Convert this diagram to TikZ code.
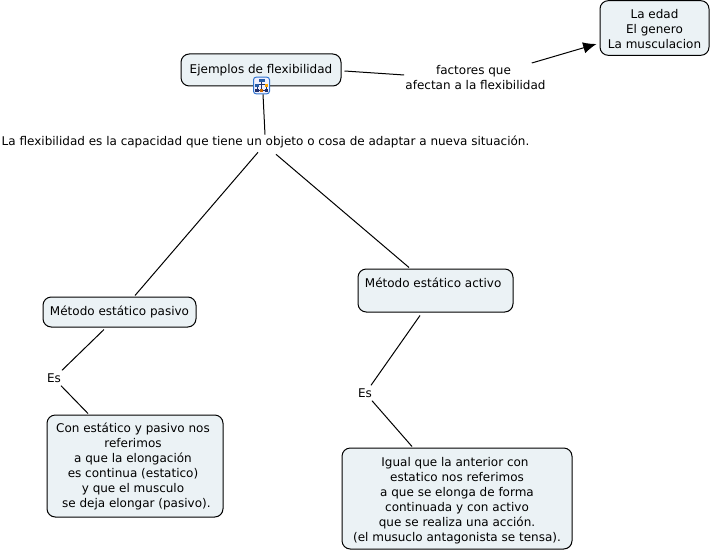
\documentclass[tikz,border=0pt]{standalone}
\usepackage{fontspec}
\setmainfont{DejaVu Sans}
\usetikzlibrary{arrows.meta}
\definecolor{boxfill}{HTML}{EBF2F5}
\definecolor{iconblue}{HTML}{2E73D0}
\definecolor{icondark}{HTML}{1F2F6B}
\newcommand{\trailgap}[1]{\rule{#1pt}{0pt}}
\newcommand{\topgap}[1]{\rule{0pt}{#1pt}}
\tikzset{
  cbox/.style={draw=black,fill=boxfill,rounded corners=6.2pt,line width=0.75pt,align=center,inner sep=0pt,font=\fontsize{9pt}{11.25pt}\selectfont},
  lbl/.style={align=center,inner sep=0pt,font=\fontsize{9pt}{11.25pt}\selectfont},
  conn/.style={draw=black,line width=0.75pt},
}
\begin{document}
\begin{tikzpicture}[x=0.75pt,y=-0.75pt]
\useasboundingbox (0,0) rectangle (712,552);
\fill[white] (0,0) rectangle (712,552);
\node[cbox,minimum width=120pt,minimum height=24pt] (ej) at (261,70) {Ejemplos de flexibilidad};
\node[cbox,minimum width=81.75pt,minimum height=41pt] (edad) at (654.5,28) {\topgap{8.6}La edad\\El genero\\La musculacion};
\node[cbox,minimum width=114.75pt,minimum height=22.5pt] (pas) at (119.5,312) {Método estático pasivo};
\node[cbox,minimum width=132pt,minimum height=76.5pt] (con) at (135,466) {\topgap{8.6}Con estático y pasivo nos\trailgap{3}\\referimos\trailgap{3}\\a que la elongación\trailgap{3}\\es continua (estatico)\trailgap{3}\\y que el musculo\trailgap{3}\\\rule{2pt}{0pt}se deja elongar (pasivo).};
\node[cbox,minimum width=116.25pt,minimum height=32.25pt] (act) at (435.5,290.5) {\topgap{10}Método estático activo\trailgap{3.5}\\\strut};
\node[cbox,minimum width=172.5pt,minimum height=75.75pt] (igu) at (457,498.5) {\topgap{10}Igual que la anterior con\trailgap{3}\\estatico nos referimos\\a que se elonga de forma\\continuada y con activo\\que se realiza una acción.\\(el musuclo antagonista se tensa).};
\node[lbl] (fac) at (475.5,78) {factores que\trailgap{3}\\afectan a la flexibilidad};
\node[lbl] (def) at (265.5,142) {La flexibilidad es la capacidad que tiene un objeto o cosa de adaptar a nueva situación.};
\node[lbl] (es1) at (54,378) {Es};
\node[lbl] (es2) at (365,393) {Es};
% icon
\node[draw=iconblue,fill=blue!6,rounded corners=2pt,line width=0.75pt,minimum width=12pt,minimum height=12.5pt,inner sep=0pt] (icon) at (261.5,85.5) {};
\begin{scope}[shift={(icon.center)},line width=0.5pt]
\draw[icondark] (0,-3) -- (0,5) (-4.5,-1) -- (4.5,-1) (-4.5,-1) -- (-4.5,5) (4.5,-1) -- (4.5,5) (-4.5,5) -- (4.5,5);
\fill[iconblue!80!black] (-3,-6) rectangle (3,-3);
\fill[iconblue!80!black] (-6.5,-1) rectangle (-3,2);
\fill[orange!70!yellow] (3,-1) rectangle (6.5,2);
\fill[icondark] (-6.5,4) rectangle (-3,6.5);
\fill[orange!80!black] (-1.5,4) rectangle (1.5,6.5);
\fill[icondark] (3,4) rectangle (6.5,6.5);
\end{scope}
% connectors
\draw[conn] ([shift={(3,1)}]ej.east) -- ([shift={(-1,-3)}]fac.west);
\draw[conn,-{Latex[length=10pt,width=8.5pt]}] ([shift={(-14,-15)}]fac.east) -- ([shift={(-3,16)}]edad.west);
\draw[conn] ([shift={(1.5,0)}]icon.south) -- ([shift={(-0.5,-1)}]def.north);
\draw[conn] ([shift={(-7.5,4)}]def.south) -- ([shift={(15.5,-1)}]pas.north);
\draw[conn] ([shift={(10.5,6)}]def.south) -- ([shift={(-26.5,-1)}]act.north);
\draw[conn] ([shift={(-15.5,2)}]pas.south) -- ([shift={(8,-3)}]es1.north);
\draw[conn] ([shift={(7,3)}]es1.south) -- ([shift={(-47,-1)}]con.north);
\draw[conn] ([shift={(-15.5,3)}]act.south) -- ([shift={(6,-3)}]es2.north);
\draw[conn] ([shift={(7,3)}]es2.south) -- ([shift={(-45,-1)}]igu.north);
\end{tikzpicture}
\end{document}
